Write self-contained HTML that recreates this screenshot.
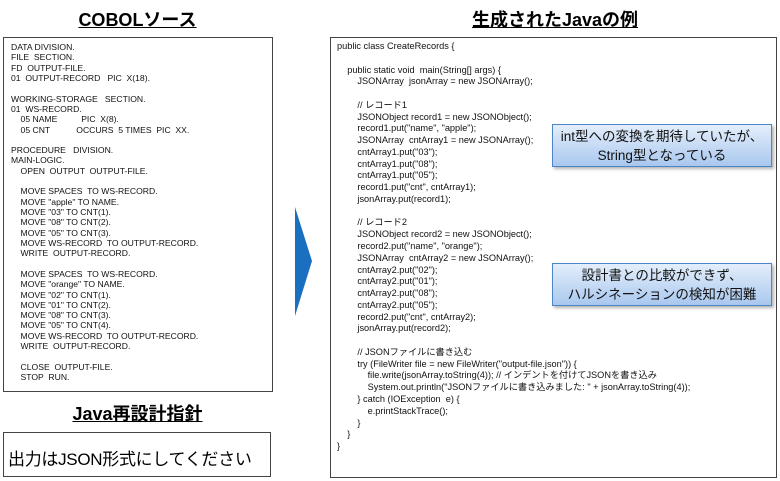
<!DOCTYPE html>
<html><head><meta charset="utf-8"><style>
body{margin:0;width:780px;height:481px;background:#fff;position:relative;overflow:hidden;font-family:"Liberation Sans","Noto Sans CJK JP",sans-serif;}
.t{position:absolute;font-weight:bold;text-decoration:underline;font-size:18px;text-align:center;color:#000;}
.box{position:absolute;border:1px solid #444;background:#fff;box-sizing:border-box;}
pre{margin:0;font-family:"Liberation Sans","Noto Sans CJK JP",sans-serif;position:absolute;white-space:pre;color:#111;}
.co{position:absolute;left:552px;width:220px;height:43px;box-sizing:border-box;border:1px solid #4a86c8;background:linear-gradient(#e4eefb,#a9c8ee);box-shadow:2px 2px 3px rgba(0,0,0,.3);text-align:center;font-size:13.5px;line-height:19px;padding-top:2px;color:#111;}
</style></head><body>
<div class="t" style="left:0;width:275px;top:6px;">COBOLソース</div>
<div class="t" style="left:330px;width:450px;top:6px;">生成されたJavaの例</div>
<div class="box" style="left:3px;top:37px;width:270px;height:355px;"></div>
<pre style="left:11px;top:42px;font-size:8.6px;line-height:10.32px;">DATA DIVISION.
FILE  SECTION.
FD  OUTPUT-FILE.
01  OUTPUT-RECORD   PIC  X(18).

WORKING-STORAGE   SECTION.
01  WS-RECORD.
    05 NAME          PIC  X(8).
    05 CNT           OCCURS  5 TIMES  PIC  XX.

PROCEDURE   DIVISION.
MAIN-LOGIC.
    OPEN  OUTPUT  OUTPUT-FILE.

    MOVE SPACES  TO WS-RECORD.
    MOVE "apple" TO NAME.
    MOVE "03" TO CNT(1).
    MOVE "08" TO CNT(2).
    MOVE "05" TO CNT(3).
    MOVE WS-RECORD  TO OUTPUT-RECORD.
    WRITE  OUTPUT-RECORD.

    MOVE SPACES  TO WS-RECORD.
    MOVE "orange" TO NAME.
    MOVE "02" TO CNT(1).
    MOVE "01" TO CNT(2).
    MOVE "08" TO CNT(3).
    MOVE "05" TO CNT(4).
    MOVE WS-RECORD  TO OUTPUT-RECORD.
    WRITE  OUTPUT-RECORD.

    CLOSE  OUTPUT-FILE.
    STOP  RUN.</pre>
<div class="t" style="left:0;width:275px;top:400px;">Java再設計指針</div>
<div class="box" style="left:3px;top:432px;width:268px;height:45px;"></div>
<div style="position:absolute;left:8px;top:445px;font-size:17px;letter-spacing:-0.3px;">出力はJSON形式にしてください</div>
<svg style="position:absolute;left:0;top:0" width="780" height="481"><polygon points="295,207 312,261 295,316" fill="#1a6fc0"/>
<polygon points="448,176 556,152 556,160" fill="#a9c8ee" stroke="#4a86c8" stroke-width="1"/></svg>
<div class="box" style="left:330px;top:37px;width:447px;height:441px;"></div>
<pre style="left:337px;top:41px;font-size:9.2px;line-height:11.76px;">public class CreateRecords {

    public static void  main(String[] args) {
        JSONArray  jsonArray = new JSONArray();

        // レコード1
        JSONObject record1 = new JSONObject();
        record1.put("name", "apple");
        JSONArray  cntArray1 = new JSONArray();
        cntArray1.put("03");
        cntArray1.put("08");
        cntArray1.put("05");
        record1.put("cnt", cntArray1);
        jsonArray.put(record1);

        // レコード2
        JSONObject record2 = new JSONObject();
        record2.put("name", "orange");
        JSONArray  cntArray2 = new JSONArray();
        cntArray2.put("02");
        cntArray2.put("01");
        cntArray2.put("08");
        cntArray2.put("05");
        record2.put("cnt", cntArray2);
        jsonArray.put(record2);

        // JSONファイルに書き込む
        try (FileWriter file = new FileWriter("output-file.json")) {
            file.write(jsonArray.toString(4)); // インデントを付けてJSONを書き込み
            System.out.println("JSONファイルに書き込みました: " + jsonArray.toString(4));
        } catch (IOException  e) {
            e.printStackTrace();
        }
    }
}</pre>
<div class="co" style="top:124px;">int型への変換を期待していたが、<br>String型となっている</div>
<div class="co" style="top:263px;">設計書との比較ができず、<br>ハルシネーションの検知が困難</div>
</body></html>
